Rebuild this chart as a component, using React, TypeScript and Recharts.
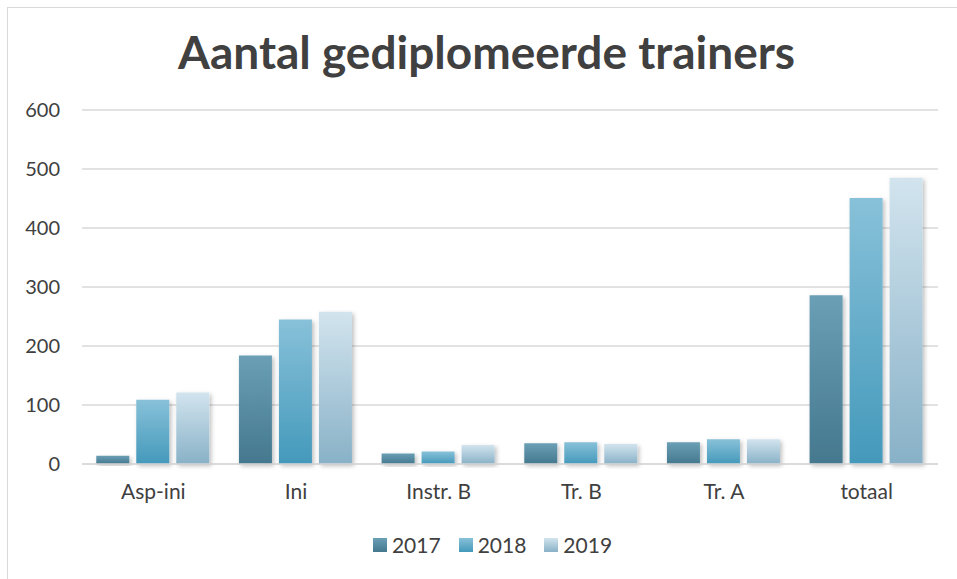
import React from "react";
import {
  BarChart,
  Bar,
  XAxis,
  YAxis,
  CartesianGrid,
} from "recharts";

// categories + values
const categories = ["Asp-ini", "Ini", "Instr. B", "Tr. B", "Tr. A", "totaal"];
const values2017 = [14, 184, 18, 35, 37, 286];
const values2018 = [109, 245, 21, 37, 42, 451];
const values2019 = [121, 258, 32, 34, 42, 485];
const yTicks = [0, 100, 200, 300, 400, 500, 600];

const years = [
  { key: "y2017", name: "2017", top: "#6a9fb5", bottom: "#44788e" },
  { key: "y2018", name: "2018", top: "#88c1d9", bottom: "#4499bb" },
  { key: "y2019", name: "2019", top: "#d2e4ee", bottom: "#88b1c7" },
];

const chartData = categories.map((c, i) => ({
  name: c,
  y2017: values2017[i],
  y2018: values2018[i],
  y2019: values2019[i],
}));

const FONT = "Lato, 'Open Sans', sans-serif";

// legend drawn as plain html under the plot
function LegendBox() {
  return (
    <div
      style={{
        position: "absolute",
        left: 14,
        width: 957,
        top: 532,
        display: "flex",
        justifyContent: "center",
        gap: 18,
        fontFamily: FONT,
        fontSize: 21,
        color: "#404040",
      }}
    >
      {years.map((y) => (
        <div key={y.key} style={{ display: "flex", alignItems: "center" }}>
          <span
            style={{
              display: "inline-block",
              width: 14,
              height: 14,
              marginRight: 5,
              background: `linear-gradient(${y.top}, ${y.bottom})`,
            }}
          />
          {y.name}
        </div>
      ))}
    </div>
  );
}

export default function App() {
  return (
    <div
      style={{
        position: "absolute",
        left: 0,
        top: 0,
        width: 957,
        height: 579,
        background: "#fff",
        overflow: "hidden",
      }}
    >
      <div
        style={{
          position: "absolute",
          left: 7,
          top: 7,
          width: 980,
          height: 600,
          border: "1px solid #d9d9d9",
        }}
      />
      <div
        style={{
          position: "absolute",
          left: 8,
          width: 957,
          top: 24,
          textAlign: "center",
          fontFamily: FONT,
          fontWeight: 700,
          fontSize: 46,
          color: "#404040",
        }}
      >
        Aantal gediplomeerde trainers
      </div>
      <div style={{ position: "absolute", left: 0, top: 0 }}>
        <BarChart
          width={957}
          height={579}
          data={chartData}
          margin={{ top: 110, right: 19, left: 0, bottom: 75 }}
          barCategoryGap="10%"
          barGap={7}
        >
          <defs>
            {years.map((y) => (
              <linearGradient key={y.key} id={"g" + y.key} x1="0" y1="0" x2="0" y2="1">
                <stop offset="0%" stopColor={y.top} />
                <stop offset="100%" stopColor={y.bottom} />
              </linearGradient>
            ))}
            <filter id="shadow" x="-20%" y="-20%" width="140%" height="140%">
              <feDropShadow dx="2" dy="2" stdDeviation="2" floodColor="#000" floodOpacity="0.25" />
            </filter>
          </defs>
          <CartesianGrid vertical={false} stroke="#d9d9d9" strokeWidth={1.5} />
          <XAxis
            dataKey="name"
            axisLine={{ stroke: "#d9d9d9", strokeWidth: 1.5 }}
            tickLine={false}
            tickMargin={14}
            height={40}
            tick={{ fill: "#404040", fontSize: 21, fontFamily: FONT }}
          />
          <YAxis
            domain={[0, 600]}
            ticks={yTicks}
            width={82}
            axisLine={false}
            tickLine={false}
            tickMargin={16}
            tick={{ fill: "#404040", fontSize: 20, fontFamily: FONT }}
          />
          {years.map((y) => (
            <Bar
              key={y.key}
              dataKey={y.key}
              name={y.name}
              fill={`url(#g${y.key})`}
              style={{ filter: "url(#shadow)" }}
              isAnimationActive={false}
            />
          ))}
        </BarChart>
      </div>
      <LegendBox />
    </div>
  );
}
